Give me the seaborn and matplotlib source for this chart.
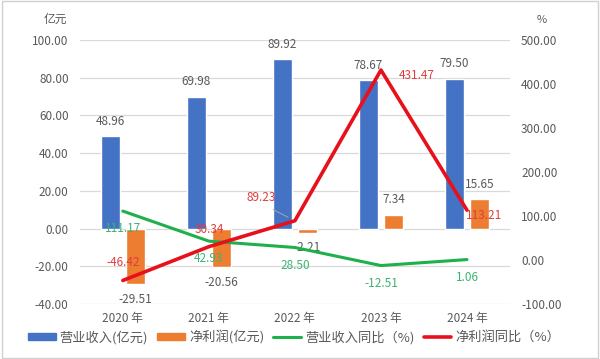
import pandas as pd
import numpy as np
import seaborn as sns
import matplotlib.pyplot as plt
from matplotlib.patches import Rectangle
from matplotlib.lines import Line2D

# Data
years = ['2020 年', '2021 年', '2022 年', '2023 年', '2024 年']
revenue = [48.96, 69.98, 89.92, 78.67, 79.50]
net_profit = [-29.51, -20.56, -2.21, 7.34, 15.65]
revenue_yoy = [111.17, 42.93, 28.50, -12.51, 1.06]
profit_yoy = [-46.42, 30.34, 89.23, 431.47, 113.21]

BLUE = '#4472C4'
ORANGE = '#ED7D31'
GREEN = '#1DB04B'
RED = '#E8101A'
TXT = '#595959'

sns.set_theme(style='white')
plt.rcParams['font.family'] = ['Noto Sans CJK SC', 'DejaVu Sans']
plt.rcParams['axes.unicode_minus'] = False

bars = pd.DataFrame({
    'year': years * 2,
    'value': revenue + net_profit,
    'series': ['营业收入(亿元)'] * 5 + ['净利润(亿元)'] * 5,
})
lines = pd.DataFrame({'x': np.arange(len(years)), 'rev': revenue_yoy, 'prof': profit_yoy})

fig = plt.figure(figsize=(6, 3.59), dpi=100)
ax = fig.add_axes([0.133, 0.153, 0.717, 0.736])

sns.barplot(data=bars, x='year', y='value', hue='series', order=years,
            palette=[BLUE, ORANGE], width=0.58, gap=0.25, saturation=1,
            legend=False, ax=ax)
ax.set_ylim(-40, 100)
ax.set_yticks(np.arange(-40, 101, 20))
ax.set_yticklabels([f'{v:.2f}' for v in np.arange(-40, 101, 20)], color=TXT, fontsize=8.5)
ax.set_xlabel('')
ax.set_ylabel('')
ax.tick_params(axis='x', colors=TXT, labelsize=8.5, length=0, pad=6)
ax.tick_params(axis='y', length=0, pad=8)
ax.yaxis.grid(True, color='#D9D9D9', linewidth=0.9)
ax.set_axisbelow(True)
for s in ax.spines.values():
    s.set_visible(False)

# bar labels
for i, v in enumerate(revenue):
    ax.annotate(f'{v:.2f}', (i - 0.145, v), xytext=(0, 6), textcoords='offset points',
                ha='center', va='bottom', fontsize=8.5, color=TXT)
for i, v in enumerate(net_profit):
    if v < 0:
        ax.annotate(f'{v:.2f}', (i + 0.145, v), xytext=(0, -6), textcoords='offset points',
                    ha='center', va='top', fontsize=8.5, color=TXT)
    else:
        ax.annotate(f'{v:.2f}', (i + 0.145, v), xytext=(0, 6), textcoords='offset points',
                    ha='center', va='bottom', fontsize=8.5, color=TXT)

ax2 = ax.twinx()
sns.lineplot(data=lines, x='x', y='rev', color=GREEN, linewidth=2.2, ax=ax2)
sns.lineplot(data=lines, x='x', y='prof', color=RED, linewidth=2.6, ax=ax2)
ax2.set_ylim(-100, 500)
ax2.set_yticks(np.arange(-100, 501, 100))
ax2.set_yticklabels([f'{v:.2f}' for v in np.arange(-100, 501, 100)], color=TXT, fontsize=8.5)
ax2.set_ylabel('')
ax2.set_xlabel('')
ax2.tick_params(axis='y', length=0, pad=8)
ax2.grid(False)
for s in ax2.spines.values():
    s.set_visible(False)

# line labels
for i, v in enumerate(revenue_yoy):
    ax2.annotate(f'{v:.2f}', (i, v), xytext=(0, -8), textcoords='offset points',
                 ha='center', va='top', fontsize=8.5, color='#3CB371')
red_off = [(0, 8), (0, 8), (-24, 12), (26, -4), (12, -4)]
for i, v in enumerate(profit_yoy):
    ax2.annotate(f'{v:.2f}', (i, v), xytext=red_off[i], textcoords='offset points',
                 ha='center', va='bottom' if i < 3 else 'center', fontsize=8.5,
                 color='#E03C3C')
ax2.annotate('', (2 - 0.05, profit_yoy[2] + 5), xytext=(2 - 0.28, profit_yoy[2] + 28),
             arrowprops=dict(arrowstyle='-', color='#A6A6A6', lw=0.7))

ax.set_xlim(-0.5, 4.5)
fig.text(0.092, 0.945, '亿元', fontsize=8.5, color=TXT, ha='center', va='center')
fig.text(0.903, 0.945, '%', fontsize=8, color=TXT, ha='center', va='center')

handles = [
    Rectangle((0, 0), 1, 1, color=BLUE),
    Rectangle((0, 0), 1, 1, color=ORANGE),
    Line2D([0], [0], color=GREEN, lw=2.2),
    Line2D([0], [0], color=RED, lw=2.6),
]
labels = ['营业收入(亿元)', '净利润(亿元)', '营业收入同比（%)', '净利润同比（%）']
fig.legend(handles, labels, loc='center', bbox_to_anchor=(0.49, 0.061), ncol=4,
           frameon=False, fontsize=9.5, handlelength=2.1, handleheight=0.55,
           columnspacing=0.7, handletextpad=0.3, labelcolor=TXT)

fig.patches.append(Rectangle((0.003, 0.004), 0.994, 0.992, transform=fig.transFigure,
                             fill=False, edgecolor='#D0D0D0', linewidth=1))

plt.savefig('out.png', dpi=100)
